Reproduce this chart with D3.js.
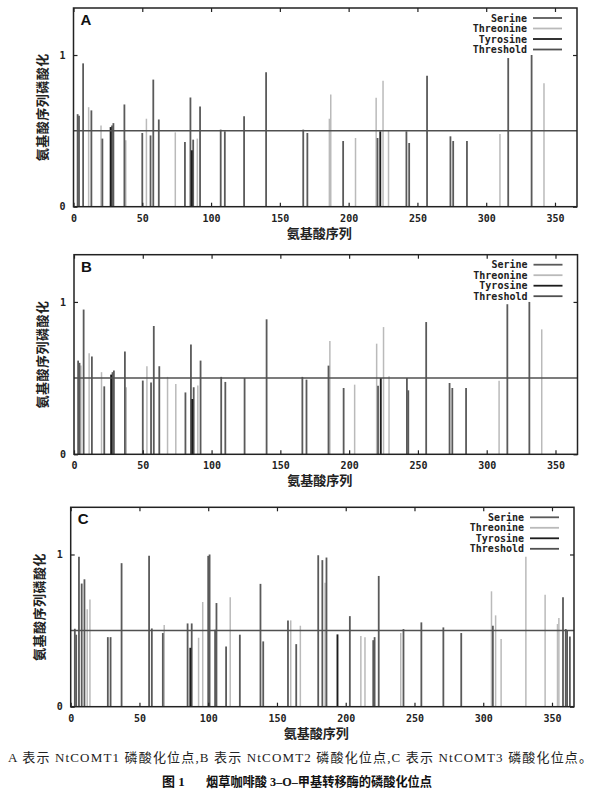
<!DOCTYPE html>
<html><head><meta charset="utf-8">
<script src="https://cdn.jsdelivr.net/npm/d3@7"></script>
<style>body{margin:0;background:#fff}</style>
</head><body>
<svg id="chart" width="600" height="793"></svg>
<script>
// ---------- data ----------
const xTicks = [0, 50, 100, 150, 200, 250, 300, 350];
const yTicks = [0, 1];
const seriesNames = ["Serine", "Threonine", "Tyrosine", "Threshold"];
const threshold = 0.5;
const xTitle = "氨基酸序列";
const yTitle = "氨基酸序列磷酸化";
const caption1 = "A 表示 NtCOMT1 磷酸化位点,B 表示 NtCOMT2 磷酸化位点,C 表示 NtCOMT3 磷酸化位点。";
const caption2a = "图 1";
const caption2b = "烟草咖啡酸 3–O–甲基转移酶的磷酸化位点";

// [position, score]
const A_serine = [[3,0.61],[4,0.60],[7,0.945],[13,0.635],[21,0.449],[28,0.536],[29,0.551],[37,0.674],[50,0.486],[56,0.47],[58,0.838],[62,0.575],[81,0.427],[85,0.72],[87,0.442],[92,0.661],[107,0.508],[110,0.497],[124,0.597],[140,0.886],[167,0.508],[170,0.486],[196,0.433],[221,0.453],[242,0.497],[244,0.42],[257,0.864],[274,0.464],[276,0.433],[286,0.433],[316,0.98],[333,1.0]];
const A_threonine = [[11,0.656],[20,0.536],[38,0.438],[53,0.58],[74,0.49],[90,0.449],[186,0.58],[187,0.74],[205,0.453],[220,0.718],[225,0.831],[229,0.503],[310,0.48],[342,0.814]];
const A_tyrosine = [[27,0.525],[86,0.372],[223,0.497]];

const B_serine = [[3,0.615],[4,0.60],[7,0.95],[13,0.642],[22,0.446],[28,0.539],[29,0.55],[37,0.675],[50,0.484],[56,0.472],[58,0.842],[62,0.578],[81,0.406],[85,0.721],[87,0.44],[92,0.615],[107,0.508],[110,0.475],[124,0.501],[140,0.886],[166,0.508],[169,0.49],[185,0.582],[196,0.435],[221,0.45],[242,0.501],[243,0.42],[256,0.868],[273,0.468],[275,0.435],[285,0.435],[315,0.985],[331,1.0]];
const B_threonine = [[5,0.582],[11,0.664],[20,0.539],[38,0.44],[53,0.578],[68,0.508],[74,0.462],[90,0.451],[186,0.743],[204,0.457],[220,0.726],[225,0.835],[229,0.512],[309,0.483],[340,0.82]];
const B_tyrosine = [[27,0.523],[86,0.363],[223,0.501]];

const C_serine = [[3,0.512],[4,0.473],[6,0.985],[8,0.809],[10,0.837],[27,0.457],[29,0.457],[37,0.943],[57,0.991],[59,0.514],[67,0.484],[85,0.547],[88,0.547],[100,0.991],[101,1.0],[105,0.506],[106,0.681],[113,0.396],[123,0.473],[138,0.807],[140,0.429],[158,0.567],[164,0.411],[180,0.995],[183,0.963],[186,0.98],[203,0.595],[220,0.437],[221,0.457],[224,0.859],[242,0.51],[255,0.554],[271,0.521],[284,0.484],[307,0.532],[358,0.719],[360,0.51],[361,0.5],[363,0.461]];
const C_threonine = [[12,0.64],[14,0.705],[68,0.536],[93,0.453],[96,0.688],[116,0.719],[160,0.567],[167,0.532],[185,0.815],[211,0.464],[214,0.457],[240,0.484],[306,0.758],[309,0.6],[313,0.444],[331,0.985],[345,0.736],[354,0.543],[355,0.582]];
const C_tyrosine = [[87,0.387],[194,0.475]];

// ---------- styles / layout ----------
const colors = {Serine:"#5a5a5a", Threonine:"#bababa", Tyrosine:"#1c1c1c", Threshold:"#505050"};
const widths = {Serine:1.8, Threonine:1.5, Tyrosine:1.9};
const panels = [
  {label:"A", left:73.5, right:577, top:8, bottom:206.7, serine:A_serine, threonine:A_threonine, tyrosine:A_tyrosine},
  {label:"B", left:74, right:577.5, top:254.7, bottom:454.3, serine:B_serine, threonine:B_threonine, tyrosine:B_tyrosine},
  {label:"C", left:70.7, right:574, top:507.3, bottom:706.7, serine:C_serine, threonine:C_threonine, tyrosine:C_tyrosine}
];
const xMax = 366, yMax = 1.31;
const mono = "'DejaVu Sans Mono', 'Liberation Mono', monospace";
const cjk = "'Noto Sans CJK SC', sans-serif";

const svg = d3.select("#chart");

panels.forEach(p => {
  const x = d3.scaleLinear().domain([0, xMax]).range([p.left, p.right]);
  const y = d3.scaleLinear().domain([0, yMax]).range([p.bottom, p.top]);
  const g = svg.append("g");

  const groups = [["Threonine", p.threonine], ["Serine", p.serine], ["Tyrosine", p.tyrosine]];
  groups.forEach(([name, data]) => {
    g.selectAll(null).data(data).enter().append("line")
      .attr("x1", d => x(d[0])).attr("x2", d => x(d[0]))
      .attr("y1", y(0)).attr("y2", d => y(d[1]))
      .attr("stroke", colors[name]).attr("stroke-width", widths[name]);
  });

  g.append("line")
    .attr("x1", x(0)).attr("x2", x(xMax))
    .attr("y1", y(threshold)).attr("y2", y(threshold))
    .attr("stroke", colors.Threshold).attr("stroke-width", 1.5);

  const fmt = d3.format("d");
  const axB = g.append("g").attr("transform", `translate(0,${p.bottom})`)
    .call(d3.axisBottom(x).tickValues(xTicks).tickSize(-4).tickPadding(8).tickFormat(fmt));
  const axT = g.append("g").attr("transform", `translate(0,${p.top})`)
    .call(d3.axisTop(x).tickValues(xTicks).tickSize(-4).tickFormat(""));
  const axL = g.append("g").attr("transform", `translate(${p.left},0)`)
    .call(d3.axisLeft(y).tickValues(yTicks).tickSize(-4).tickPadding(8).tickFormat(fmt));
  const axR = g.append("g").attr("transform", `translate(${p.right},0)`)
    .call(d3.axisRight(y).tickValues(yTicks).tickSize(-4).tickFormat(""));
  [axB, axT, axL, axR].forEach(a => {
    a.select(".domain").remove();
    a.selectAll(".tick line").attr("stroke", "#222").attr("stroke-width", 1.2);
    a.selectAll("text").attr("font-family", mono).attr("font-size", 10)
      .attr("font-weight", "bold").attr("fill", "#222");
  });
  axB.selectAll("text").attr("dy", "0.71em").attr("y", 8);

  g.append("rect").attr("x", p.left).attr("y", p.top)
    .attr("width", p.right - p.left).attr("height", p.bottom - p.top)
    .attr("fill", "none").attr("stroke", "#222").attr("stroke-width", 1.5);

  g.append("text").attr("x", p.left + 7).attr("y", p.top + 17)
    .attr("font-family", "'Liberation Sans', Arial, sans-serif").attr("font-weight", "bold")
    .attr("font-size", 15).attr("fill", "#111").text(p.label);

  seriesNames.forEach((name, i) => {
    const yy = p.top + 10 + i * 10.5;
    g.append("text").attr("x", p.right - 50).attr("y", yy).attr("dy", "0.35em")
      .attr("text-anchor", "end").attr("font-family", mono).attr("font-size", 10)
      .attr("font-weight", "bold").attr("fill", "#222").text(name);
    g.append("line").attr("x1", p.right - 44).attr("x2", p.right - 15)
      .attr("y1", yy).attr("y2", yy)
      .attr("stroke", colors[name]).attr("stroke-width", 1.8);
  });

  g.append("text").attr("x", (p.left + p.right) / 2 - 6).attr("y", p.bottom + 31)
    .attr("text-anchor", "middle").attr("font-family", cjk).attr("font-weight", "bold")
    .attr("font-size", 13).attr("fill", "#222").text(xTitle);
  g.append("text")
    .attr("transform", `translate(${p.left - 27},${(p.top + p.bottom) / 2}) rotate(-90)`)
    .attr("text-anchor", "middle").attr("font-family", cjk).attr("font-weight", "bold")
    .attr("font-size", 13).attr("letter-spacing", 0.5).attr("fill", "#222").text(yTitle);
});

svg.append("text").attr("x", 8).attr("y", 762)
  .attr("font-family", "'Liberation Serif', 'Noto Sans CJK SC', serif")
  .attr("font-size", 13).attr("fill", "#222")
  .attr("textLength", 584).attr("lengthAdjust", "spacing").text(caption1);
svg.append("text").attr("x", 162).attr("y", 786)
  .attr("font-family", "'Liberation Serif', 'Noto Sans CJK SC', serif")
  .attr("font-size", 13).attr("font-weight", "bold").attr("fill", "#111").text(caption2a);
svg.append("text").attr("x", 206).attr("y", 786)
  .attr("font-family", "'Liberation Serif', 'Noto Sans CJK SC', serif")
  .attr("font-size", 13).attr("font-weight", "bold").attr("fill", "#111")
  .attr("textLength", 226).attr("lengthAdjust", "spacingAndGlyphs").text(caption2b);
</script>
</body></html>
